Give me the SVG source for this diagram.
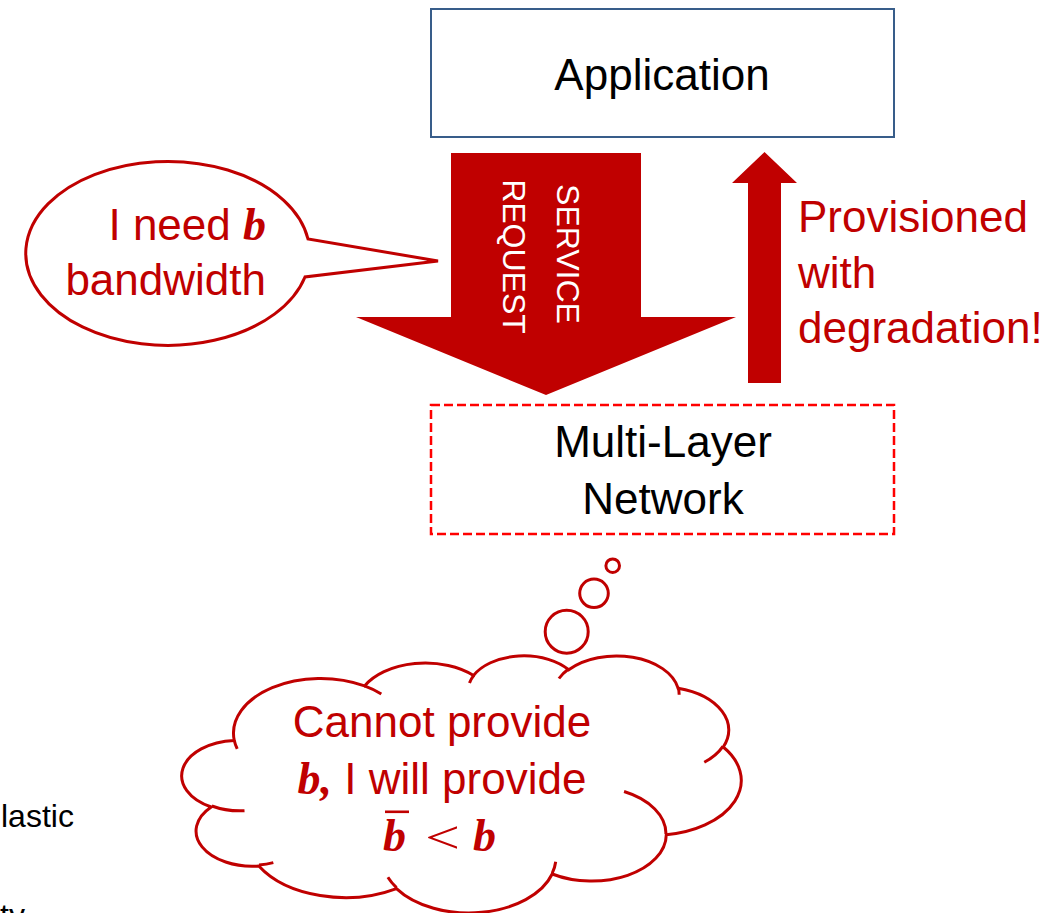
<svg xmlns="http://www.w3.org/2000/svg" width="1049" height="913" viewBox="0 0 1049 913">
  <style>
    .sans { font-family: "Liberation Sans", Arial, sans-serif; }
    .math { font-family: "Liberation Serif", "Times New Roman", serif; font-weight: bold; font-style: italic; }
    .lbl { font-size: 44px; }
    .dark { fill: #000000; }
    .red { fill: #c00000; }
    .outline { fill: #ffffff; stroke: #c00000; stroke-width: 3; }
    .tick { fill: none; stroke: #c00000; stroke-width: 3; }
    .arrow { fill: #c00000; stroke: none; }
    .frag { font-family: "Liberation Sans", Arial, sans-serif; font-size: 32px; fill: #000000; }
  </style>

  <rect x="0" y="0" width="1049" height="913" fill="#ffffff"/>

  <!-- text running in from the left margin -->
  <g id="margin-text">
    <text class="frag" x="1" y="827">lastic</text>
    <text class="frag" x="0" y="926">ty</text>
  </g>

  <!-- connectors: request arrow down, provisioning arrow up -->
  <g id="connectors">
    <g id="service-request">
      <polygon class="arrow" points="451,153 641,153 641,317 736,317 546,395 356,317 451,317"/>
      <text class="sans" font-size="32" fill="#ffffff" text-anchor="middle" transform="translate(557,254) rotate(90)">SERVICE</text>
      <text class="sans" font-size="32" fill="#ffffff" text-anchor="middle" transform="translate(503,256.5) rotate(90)">REQUEST</text>
    </g>
    <g id="provisioned">
      <polygon class="arrow" points="748,383 781,383 781,183 797,183 764.5,152 732,183 748,183"/>
      <text class="sans lbl red" x="798" y="232">Provisioned</text>
      <text class="sans lbl red" x="798" y="288">with</text>
      <text class="sans lbl red" x="798" y="343">degradation!</text>
    </g>
  </g>

  <!-- application node -->
  <g id="application">
    <rect x="431" y="9" width="463" height="128" fill="#ffffff" stroke="#385d8a" stroke-width="2"/>
    <text class="sans lbl dark" x="662" y="90" text-anchor="middle">Application</text>
  </g>

  <!-- network node -->
  <g id="multi-layer-network">
    <rect x="431" y="405" width="463" height="129" fill="#ffffff" stroke="#ff0000" stroke-width="2.5" stroke-dasharray="9 4"/>
    <text class="sans lbl dark" x="663" y="457" text-anchor="middle">Multi-Layer</text>
    <text class="sans lbl dark" x="663" y="514" text-anchor="middle">Network</text>
  </g>

  <!-- speech bubble from the application -->
  <g id="need-bubble">
    <path class="outline" stroke-width="2.5" d="M 305 277 A 142 92 0 1 1 308 239 L 438 261 Z"/>
    <text class="sans lbl red" x="266" y="240" text-anchor="end">I need <tspan class="math" font-size="46">b</tspan></text>
    <text class="sans lbl red" x="266" y="295" text-anchor="end">bandwidth</text>
  </g>

  <!-- thought cloud from the network -->
  <g id="network-thought">
    <circle class="outline" cx="612.7" cy="565.7" r="6.8"/>
    <circle class="outline" cx="594" cy="593.3" r="14.3"/>
    <circle class="outline" cx="566.7" cy="631.7" r="21.5"/>
    <path class="outline" d="M 234.29 740.49
      A 87.07 54.67 0 0 1 364.58 685.95
      A 68.76 43.23 0 0 1 473.57 675.42
      A 56.28 35.37 0 0 1 568.70 669.78
      A 62.63 39.23 0 0 1 678.09 688.21
      A 68.76 43.27 0 0 1 723.22 747.01
      A 87.36 54.85 0 0 1 666.29 834.69
      A 74.59 46.80 0 0 1 552.20 874.02
      A 87.06 54.82 0 0 1 396.47 888.57
      A 99.54 62.72 0 0 1 258.82 866.00
      A 56.22 35.21 0 0 1 211.24 806.97
      A 56.02 35.37 0 0 1 234.29 740.49 Z"/>
    <path class="tick" d="M 244.51 810.73 A 56.02 35.37 0 0 1 211.84 805.98
      M 273.33 862.61 A 56.22 35.21 0 0 1 259.03 864.88
      M 396.47 887.55 A 87.06 54.82 0 0 1 387.88 877.22
      M 555.70 861.73 A 87.06 54.82 0 0 1 552.26 873.10
      M 624.06 791.55 A 74.59 46.80 0 0 1 665.97 834.00
      M 722.94 746.34 A 68.76 43.27 0 0 1 704.27 762.26
      M 678.15 687.28 A 62.63 39.23 0 0 1 679.13 694.80
      M 558.93 678.51 A 62.63 39.23 0 0 1 568.51 668.92
      M 469.49 683.08 A 56.28 35.37 0 0 1 474.12 674.81
      M 364.51 685.89 A 87.07 54.67 0 0 1 381.31 693.93
      M 237.21 748.93 A 87.07 54.67 0 0 1 234.29 740.49"/>
    <text class="sans lbl red" x="442" y="737" text-anchor="middle">Cannot provide</text>
    <text class="sans lbl red" x="442" y="794" text-anchor="middle"><tspan class="math" font-size="46">b,</tspan> I will provide</text>
    <text class="red" y="851">
      <tspan class="math" font-size="46" x="383">b</tspan>
      <tspan class="math" font-size="46" x="473">b</tspan>
    </text>
    <!-- wide math less-than sign -->
    <text class="red" font-family="Liberation Serif, serif" font-size="46" transform="translate(425,853) scale(1.35,1)">&lt;</text>
    <rect class="red" x="385" y="810.5" width="24" height="2.6"/>
  </g>
</svg>
